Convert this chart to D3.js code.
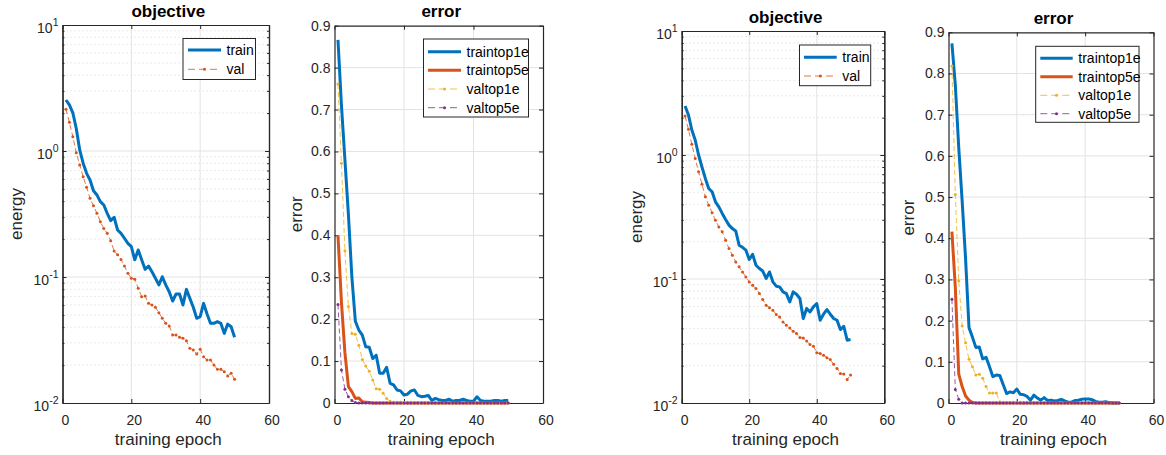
<!DOCTYPE html>
<html>
<head>
<meta charset="utf-8">
<script src="https://cdn.jsdelivr.net/npm/d3@7"></script>
<style>body{margin:0;background:#fff}</style>
</head>
<body>
<script>
// epochs 1..50
const epochs = d3.range(1, 51);

// left run
const leftTrainObj = [2.54, 2.32, 2.01, 1.51, 1.02, 0.80, 0.665, 0.589, 0.484, 0.448,
  0.396, 0.373, 0.320, 0.280, 0.298, 0.236, 0.222, 0.203, 0.185, 0.174,
  0.137, 0.164, 0.137, 0.115, 0.122, 0.110, 0.0977, 0.0865, 0.1005, 0.0865,
  0.0764, 0.0645, 0.0733, 0.0733, 0.060, 0.0798, 0.0677, 0.0575, 0.047, 0.0484,
  0.0618, 0.0508, 0.0429, 0.0429, 0.0442, 0.0429, 0.0357, 0.0423, 0.0403, 0.0332];
const leftValObj = [2.14, 1.69, 1.30, 0.97, 0.775, 0.625, 0.515, 0.421, 0.368, 0.320,
  0.275, 0.243, 0.222, 0.194, 0.161, 0.150, 0.138, 0.122, 0.107, 0.0977,
  0.096, 0.0813, 0.0698, 0.0707, 0.0618, 0.060, 0.0575, 0.0521, 0.047, 0.0429,
  0.0409, 0.0347, 0.0347, 0.0332, 0.0326, 0.0312, 0.0272, 0.0264, 0.0245, 0.0267,
  0.0233, 0.0219, 0.0219, 0.020, 0.0185, 0.0185, 0.0177, 0.0164, 0.0172, 0.0154];
const leftTrainTop1 = [0.866, 0.71, 0.58, 0.45, 0.30, 0.195, 0.174, 0.162, 0.134, 0.133,
  0.106, 0.114, 0.071, 0.071, 0.085, 0.047, 0.043, 0.031, 0.029, 0.019,
  0.021, 0.029, 0.031, 0.018, 0.015, 0.016, 0.018, 0.006, 0.011, 0.008,
  0.006, 0.006, 0.009, 0.004, 0.006, 0.006, 0.009, 0.006, 0.004, 0.004,
  0.015, 0.006, 0.004, 0.004, 0.004, 0.006, 0.006, 0.004, 0.006, 0.006];
const leftTrainTop5 = [0.40, 0.24, 0.12, 0.039, 0.027, 0.011, 0.012, 0.003, 0.002, 0.001,
  0, 0, 0, 0, 0, 0, 0, 0, 0, 0, 0, 0, 0, 0, 0, 0, 0, 0, 0, 0,
  0, 0, 0, 0, 0, 0, 0, 0, 0, 0, 0, 0, 0, 0, 0, 0, 0, 0, 0, 0];
const leftValTop1 = [0.761, 0.572, 0.363, 0.230, 0.166, 0.164, 0.138, 0.104, 0.088, 0.076,
  0.055, 0.034, 0.033, 0.023, 0.011, 0.004, 0.002, 0.002, 0.002, 0.002,
  0.002, 0.002, 0, 0, 0, 0, 0, 0, 0, 0,
  0, 0, 0, 0, 0, 0, 0, 0, 0, 0, 0, 0, 0, 0, 0, 0, 0, 0, 0, 0];
const leftValTop5 = [0.235, 0.079, 0.033, 0.015, 0.006, 0.001, 0, 0, 0, 0,
  0, 0, 0, 0, 0, 0, 0, 0, 0, 0, 0, 0, 0, 0, 0, 0, 0, 0, 0, 0,
  0, 0, 0, 0, 0, 0, 0, 0, 0, 0, 0, 0, 0, 0, 0, 0, 0, 0, 0, 0];

// right run
const rightTrainObj = [2.48, 2.10, 1.59, 1.32, 1.0, 0.80, 0.647, 0.537, 0.505, 0.419,
  0.382, 0.338, 0.302, 0.272, 0.255, 0.244, 0.1875, 0.180, 0.171, 0.1435,
  0.158, 0.129, 0.1215, 0.116, 0.101, 0.114, 0.0949, 0.0875, 0.0864, 0.0787,
  0.0763, 0.0653, 0.0787, 0.0753, 0.0697, 0.048, 0.0578, 0.0542, 0.0596, 0.0634,
  0.0465, 0.052, 0.0567, 0.052, 0.048, 0.0465, 0.0391, 0.0416, 0.0321, 0.0325];
const rightValObj = [2.06, 1.61, 1.22, 0.937, 0.731, 0.582, 0.460, 0.394, 0.342, 0.298,
  0.263, 0.240, 0.2056, 0.176, 0.1556, 0.1374, 0.1253, 0.114, 0.104, 0.0948,
  0.089, 0.0838, 0.0763, 0.0683, 0.0615, 0.0585, 0.056, 0.0517, 0.0494, 0.0451,
  0.0424, 0.0403, 0.0379, 0.0363, 0.0337, 0.0335, 0.0316, 0.0296, 0.0287, 0.0254,
  0.0251, 0.0243, 0.0232, 0.0224, 0.0205, 0.019, 0.0173, 0.0171, 0.0155, 0.0168];
const rightTrainTop1 = [0.873, 0.772, 0.62, 0.49, 0.35, 0.183, 0.16, 0.135, 0.136, 0.107,
  0.111, 0.088, 0.064, 0.068, 0.067, 0.045, 0.023, 0.027, 0.025, 0.034,
  0.021, 0.020, 0.016, 0.007, 0.019, 0.012, 0.007, 0.013, 0.006, 0.007,
  0.005, 0.006, 0.009, 0.005, 0.002, 0.002, 0.006, 0.007, 0.009, 0.010,
  0.010, 0.008, 0.004, 0.002, 0.002, 0.003, 0.001, 0, 0, 0];
const rightTrainTop5 = [0.416, 0.28, 0.07, 0.040, 0.017, 0.007, 0.001, 0, 0, 0,
  0, 0, 0, 0, 0, 0, 0, 0, 0, 0, 0, 0, 0, 0, 0, 0, 0, 0, 0, 0,
  0, 0, 0, 0, 0, 0, 0, 0, 0, 0, 0, 0, 0, 0, 0, 0, 0, 0, 0, 0];
const rightValTop1 = [0.818, 0.506, 0.297, 0.187, 0.146, 0.106, 0.088, 0.068, 0.070, 0.060,
  0.040, 0.024, 0.024, 0.024, 0.003, 0.002, 0.002, 0.002, 0.002, 0.002,
  0.002, 0.002, 0.002, 0, 0, 0, 0, 0, 0, 0,
  0, 0, 0, 0, 0, 0, 0, 0, 0, 0, 0, 0, 0, 0, 0, 0, 0, 0, 0, 0];
const rightValTop5 = [0.252, 0.033, 0.009, 0, 0, 0, 0, 0, 0, 0,
  0, 0, 0, 0, 0, 0, 0, 0, 0, 0, 0, 0, 0, 0, 0, 0, 0, 0, 0, 0,
  0, 0, 0, 0, 0, 0, 0, 0, 0, 0, 0, 0, 0, 0, 0, 0, 0, 0, 0, 0];

const xTicks = [0, 20, 40, 60];
const errTicks = [0, 0.1, 0.2, 0.3, 0.4, 0.5, 0.6, 0.7, 0.8, 0.9];
const logTicks = [0.01, 0.1, 1, 10];
const logExp = ["-2", "-1", "0", "1"];

const blue = "#0072BD", orange = "#D95319", yellow = "#EDB120", purple = "#7E2F8E";
const ink = "#262626";
const font = "'Liberation Sans', Arial, Helvetica, sans-serif";

const w = 1166, h = 455;
const svg = d3.select("body").append("svg")
  .attr("width", w)
  .attr("height", h)
  .style("font-family", font);

let clipId = 0;

function drawPanel(p) {
  const g = svg.append("g");
  const x = d3.scaleLinear().domain([0, 60]).range([p.left, p.right]);
  const y = p.log
    ? d3.scaleLog().domain([0.01, 10]).range([p.bottom, p.top])
    : d3.scaleLinear().domain([0, 0.9]).range([p.bottom, p.top]);
  const yTicks = p.log ? logTicks : errTicks;

  // minor grid (log only)
  let minors = [];
  if (p.log) {
    [0.01, 0.1, 1].forEach(d => { for (let k = 2; k < 10; k++) minors.push(d * k); });
    g.append("g").selectAll("line")
      .data(minors).enter().append("line")
      .attr("x1", p.left).attr("x2", p.right)
      .attr("y1", d => y(d)).attr("y2", d => y(d))
      .attr("stroke", "#d4d4d4")
      .attr("stroke-width", 1)
      .attr("stroke-dasharray", "1,3");
  }

  // major grid
  g.append("g").selectAll("line")
    .data(xTicks.slice(1, -1)).enter().append("line")
    .attr("x1", d => x(d)).attr("x2", d => x(d))
    .attr("y1", p.top).attr("y2", p.bottom)
    .attr("stroke", "#e3e3e3");
  g.append("g").selectAll("line")
    .data(yTicks.slice(1, -1)).enter().append("line")
    .attr("x1", p.left).attr("x2", p.right)
    .attr("y1", d => y(d)).attr("y2", d => y(d))
    .attr("stroke", "#e3e3e3");

  // axes (ticks inward, box on)
  const xb = d3.axisBottom(x).tickValues(xTicks).tickSizeInner(-4).tickSizeOuter(0).tickPadding(12);
  const xt = d3.axisTop(x).tickValues(xTicks).tickSizeInner(-4).tickSizeOuter(0).tickFormat("");
  const yl = d3.axisLeft(y).tickValues(yTicks).tickSizeInner(-4).tickSizeOuter(0).tickPadding(4);
  const yr = d3.axisRight(y).tickValues(yTicks).tickSizeInner(-4).tickSizeOuter(0).tickFormat("");
  if (p.log) yl.tickFormat("");
  else yl.tickFormat(d => d === 0 ? "0" : d3.format(".1f")(d));

  const axes = [
    g.append("g").attr("transform", `translate(0,${p.bottom})`).call(xb),
    g.append("g").attr("transform", `translate(0,${p.top})`).call(xt),
    g.append("g").attr("transform", `translate(${p.left},0)`).call(yl),
    g.append("g").attr("transform", `translate(${p.right},0)`).call(yr)
  ];
  if (p.log) {
    const ml = d3.axisLeft(y).tickValues(minors).tickSizeInner(-2).tickSizeOuter(0).tickFormat("");
    const mr = d3.axisRight(y).tickValues(minors).tickSizeInner(-2).tickSizeOuter(0).tickFormat("");
    axes.push(g.append("g").attr("transform", `translate(${p.left},0)`).call(ml));
    axes.push(g.append("g").attr("transform", `translate(${p.right},0)`).call(mr));
  }
  axes.forEach(a => {
    a.select(".domain").attr("stroke", ink).attr("stroke-width", 1.2);
    a.selectAll(".tick line").attr("stroke", ink).attr("stroke-width", 1);
    a.selectAll(".tick text")
      .attr("fill", ink)
      .style("font-family", font)
      .style("font-size", "14px");
  });
  axes[0].selectAll(".tick text").attr("dx", 2.5);

  // series (drawn over the box so zero-level markers stay visible)
  clipId++;
  g.append("clipPath").attr("id", "clip" + clipId)
    .append("rect")
    .attr("x", p.left - 3).attr("y", p.top)
    .attr("width", p.right - p.left + 6).attr("height", p.bottom - p.top + 3);
  const plot = g.append("g").attr("clip-path", "url(#clip" + clipId + ")");

  const line = d3.line()
    .x((d, i) => x(epochs[i]))
    .y(d => y(d));

  p.series.forEach(s => {
    plot.append("path")
      .datum(s.data)
      .attr("d", line)
      .attr("fill", "none")
      .attr("stroke", s.color)
      .attr("stroke-width", s.width)
      .attr("stroke-linejoin", "round")
      .attr("stroke-dasharray", s.dash ? "5,3" : null);
    if (s.marker) {
      plot.append("g").selectAll("circle")
        .data(s.data).enter().append("circle")
        .attr("cx", (d, i) => x(epochs[i]))
        .attr("cy", d => y(d))
        .attr("r", 1.5)
        .attr("fill", s.color);
    }
  });

  // log labels 10^n
  if (p.log) {
    const lab = g.append("g").selectAll("text")
      .data(logTicks).enter().append("text")
      .attr("x", p.left - 4)
      .attr("y", d => y(d) + 8)
      .attr("text-anchor", "end")
      .attr("fill", ink)
      .style("font-size", "14px");
    lab.append("tspan").text("10");
    lab.append("tspan")
      .attr("dy", -7)
      .style("font-size", "10.5px")
      .text((d, i) => logExp[i]);
  }

  // title, labels
  const cx = (p.left + p.right) / 2 + 2.5;
  g.append("text")
    .attr("x", cx).attr("y", p.top - 8.5)
    .attr("text-anchor", "middle")
    .attr("font-weight", "bold")
    .style("font-size", "17px")
    .attr("fill", "#000")
    .text(p.title);
  g.append("text")
    .attr("x", cx).attr("y", p.bottom + 42)
    .attr("text-anchor", "middle")
    .style("font-size", "17px")
    .attr("fill", ink)
    .text("training epoch");
  g.append("text")
    .attr("transform", `translate(${p.ylabelX},${(p.top + p.bottom) / 2}) rotate(-90)`)
    .attr("text-anchor", "middle")
    .style("font-size", "17px")
    .attr("fill", ink)
    .text(p.ylabel);

  // legend
  const L = p.legend;
  const lg = g.append("g");
  lg.append("rect")
    .attr("x", L.x0).attr("y", L.y0)
    .attr("width", L.x1 - L.x0).attr("height", L.y1 - L.y0)
    .attr("fill", "#fff")
    .attr("stroke", ink)
    .attr("stroke-width", 1);
  p.series.forEach((s, i) => {
    const ry = L.rows[i];
    lg.append("line")
      .attr("x1", L.lx1).attr("x2", L.lx2)
      .attr("y1", ry).attr("y2", ry)
      .attr("stroke", s.color)
      .attr("stroke-width", s.width)
      .attr("stroke-dasharray", s.dash ? "7,4" : null);
    if (s.marker) {
      lg.append("circle")
        .attr("cx", (L.lx1 + L.lx2) / 2).attr("cy", ry)
        .attr("r", 1.5).attr("fill", s.color);
    }
    lg.append("text")
      .attr("x", L.tx).attr("y", ry)
      .attr("dy", "0.35em")
      .style("font-size", "14px")
      .attr("fill", "#000")
      .text(s.name);
  });
}

function objSeries(train, val) {
  return [
    { name: "train", data: train, color: blue, width: 3 },
    { name: "val", data: val, color: orange, width: 0.8, dash: true, marker: true }
  ];
}
function errSeries(t1, t5, v1, v5) {
  return [
    { name: "traintop1e", data: t1, color: blue, width: 3 },
    { name: "traintop5e", data: t5, color: orange, width: 3 },
    { name: "valtop1e", data: v1, color: yellow, width: 0.8, dash: true, marker: true },
    { name: "valtop5e", data: v5, color: purple, width: 0.8, dash: true, marker: true }
  ];
}

drawPanel({
  left: 62.5, right: 269, top: 25, bottom: 403, log: true,
  title: "objective", ylabel: "energy", ylabelX: 22,
  series: objSeries(leftTrainObj, leftValObj),
  legend: { x0: 183, x1: 255.5, y0: 38.5, y1: 79.5, lx1: 188, lx2: 221, tx: 226.5, rows: [50, 69.3] }
});
drawPanel({
  left: 334.5, right: 543, top: 25.7, bottom: 403, log: false,
  title: "error", ylabel: "error", ylabelX: 301.5,
  series: errSeries(leftTrainTop1, leftTrainTop5, leftValTop1, leftValTop5),
  legend: { x0: 423.5, x1: 528.5, y0: 39, y1: 117, lx1: 428, lx2: 461, tx: 466.5, rows: [51.7, 70.3, 89, 107.7] }
});
drawPanel({
  left: 681.7, right: 884.3, top: 31, bottom: 403, log: true,
  title: "objective", ylabel: "energy", ylabelX: 641.5,
  series: objSeries(rightTrainObj, rightValObj),
  legend: { x0: 799.5, x1: 870.7, y0: 45, y1: 85.7, lx1: 804, lx2: 836.7, tx: 842.3, rows: [57.3, 76] }
});
drawPanel({
  left: 948.5, right: 1153.5, top: 32.3, bottom: 403, log: false,
  title: "error", ylabel: "error", ylabelX: 914,
  series: errSeries(rightTrainTop1, rightTrainTop5, rightValTop1, rightValTop5),
  legend: { x0: 1035.7, x1: 1139, y0: 46.3, y1: 122.3, lx1: 1040.3, lx2: 1072.7, tx: 1078.3, rows: [58.3, 76.7, 95.3, 113.7] }
});
</script>
</body>
</html>
